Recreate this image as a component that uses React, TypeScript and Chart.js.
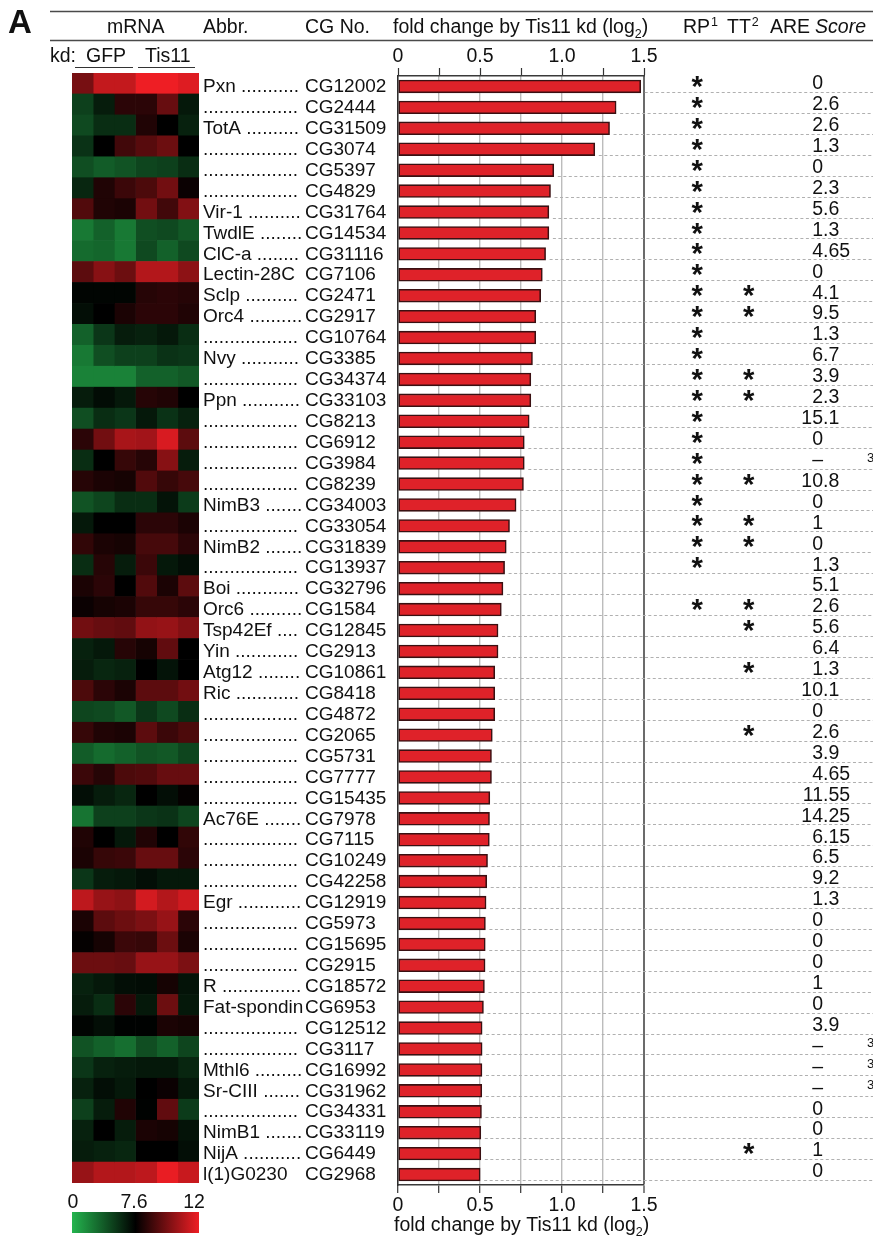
import React, { useEffect, useRef } from "react";
import { Chart, registerables } from "chart.js";

Chart.register(...registerables);

const FONT = "'Liberation Sans', Arial, Helvetica, sans-serif";
const TEXT = "#111111";

// Genes, top to bottom
const cgNumbers = [
  "CG12002", "CG2444", "CG31509", "CG3074", "CG5397", "CG4829", "CG31764", "CG14534", "CG31116", "CG7106",
  "CG2471", "CG2917", "CG10764", "CG3385", "CG34374", "CG33103", "CG8213", "CG6912", "CG3984", "CG8239",
  "CG34003", "CG33054", "CG31839", "CG13937", "CG32796", "CG1584", "CG12845", "CG2913", "CG10861", "CG8418",
  "CG4872", "CG2065", "CG5731", "CG7777", "CG15435", "CG7978", "CG7115", "CG10249", "CG42258", "CG12919",
  "CG5973", "CG15695", "CG2915", "CG18572", "CG6953", "CG12512", "CG3117", "CG16992", "CG31962", "CG34331",
  "CG33119", "CG6449", "CG2968",
];

const abbreviations = [
  "Pxn", "", "TotA", "", "", "", "Vir-1", "TwdlE", "ClC-a", "Lectin-28C",
  "Sclp", "Orc4", "", "Nvy", "", "Ppn", "", "", "", "",
  "NimB3", "", "NimB2", "", "Boi", "Orc6", "Tsp42Ef", "Yin", "Atg12", "Ric",
  "", "", "", "", "", "Ac76E", "", "", "", "Egr",
  "", "", "", "R", "Fat-spondin", "", "", "Mthl6", "Sr-CIII", "",
  "NimB1", "NijA", "l(1)G0230",
];

// fold change by Tis11 kd (log2)
const foldChange = [
  1.48, 1.33, 1.29, 1.2, 0.95, 0.93, 0.92, 0.92, 0.9, 0.88,
  0.87, 0.84, 0.84, 0.82, 0.81, 0.81, 0.8, 0.77, 0.77, 0.765,
  0.72, 0.68, 0.66, 0.65, 0.64, 0.63, 0.61, 0.61, 0.59, 0.59,
  0.59, 0.575, 0.57, 0.57, 0.56, 0.558, 0.557, 0.546, 0.541, 0.537,
  0.533, 0.532, 0.531, 0.527, 0.521, 0.513, 0.513, 0.512, 0.511, 0.509,
  0.505, 0.505, 0.501,
];

// rows (1-based) marked in the RP and TT columns
const rpRows = [1, 2, 3, 4, 5, 6, 7, 8, 9, 10, 11, 12, 13, 14, 15, 16, 17, 18, 19, 20, 21, 22, 23, 24, 26];
const ttRows = [11, 12, 15, 16, 20, 22, 23, 26, 27, 29, 32, 52];

const areScores = [
  "0", "2.6", "2.6", "1.3", "0", "2.3", "5.6", "1.3", "4.65", "0",
  "4.1", "9.5", "1.3", "6.7", "3.9", "2.3", "15.1", "0", "–", "10.8",
  "0", "1", "0", "1.3", "5.1", "2.6", "5.6", "6.4", "1.3", "10.1",
  "0", "2.6", "3.9", "4.65", "11.55", "14.25", "6.15", "6.5", "9.2", "1.3",
  "0", "0", "0", "1", "0", "3.9", "–", "–", "–", "0",
  "0", "1", "0",
];
const areNoteRows = [19, 47, 48, 49];

// mRNA levels (log2), three GFP kd and three Tis11 kd samples
const gfp1 = [9.8, 4.9, 4.5, 5.5, 4.3, 6.0, 9.1, 2.5, 3.1, 9.3, 7.4, 7.0, 3.5, 2.5, 2.1, 6.4, 4.3, 8.4, 5.7, 8.3, 4.1, 6.6, 8.5, 5.7, 8.1, 7.8, 9.7, 6.2, 6.4, 9.0, 4.7, 8.6, 3.7, 8.7, 7.0, 2.7, 8.2, 8.1, 5.3, 11.1, 8.1, 7.7, 9.6, 6.2, 6.4, 7.4, 4.1, 5.3, 6.2, 4.9, 6.2, 6.4, 10.4];
const gfp2 = [11.2, 6.4, 5.7, 7.6, 3.7, 8.2, 8.2, 3.5, 3.3, 10.1, 7.4, 7.6, 5.3, 4.3, 2.1, 7.1, 5.7, 9.7, 7.6, 8.1, 4.7, 7.6, 8.1, 8.3, 8.4, 8.0, 9.5, 6.6, 6.0, 8.4, 4.5, 8.2, 3.1, 8.3, 6.4, 4.9, 7.6, 8.6, 6.4, 10.4, 9.3, 8.0, 9.6, 6.6, 5.7, 7.0, 3.5, 6.2, 7.0, 6.4, 7.6, 6.2, 10.9];
const gfp3 = [11.2, 8.4, 5.7, 8.8, 4.1, 8.7, 8.1, 2.5, 2.5, 9.6, 7.4, 8.1, 6.4, 4.9, 2.1, 6.6, 5.3, 10.7, 8.6, 8.0, 5.7, 7.6, 8.0, 6.4, 7.6, 8.1, 9.4, 8.3, 6.2, 8.1, 3.9, 8.1, 3.5, 9.0, 6.0, 4.9, 6.6, 8.7, 6.6, 10.2, 9.6, 8.7, 9.5, 7.0, 8.4, 7.5, 2.9, 6.4, 6.6, 8.2, 6.4, 6.0, 10.9];
const tis1 = [12, 8.4, 8.2, 9.2, 4.7, 9.0, 9.7, 4.3, 4.5, 10.9, 8.3, 8.4, 6.2, 4.9, 3.5, 8.3, 6.6, 10.6, 8.3, 9.1, 5.7, 8.4, 8.9, 8.7, 9.1, 8.6, 10.3, 8.0, 7.6, 9.3, 5.3, 9.3, 4.1, 9.1, 7.6, 5.3, 8.2, 9.5, 7.0, 11.5, 9.9, 8.6, 10.4, 7.1, 6.6, 7.5, 4.3, 6.6, 7.6, 7.5, 8.1, 7.6, 11.1];
const tis2 = [12, 9.5, 7.6, 9.6, 4.9, 9.7, 8.8, 4.5, 3.5, 10.9, 8.4, 8.4, 6.6, 5.5, 3.5, 8.2, 5.5, 11.6, 10.1, 8.6, 6.8, 8.4, 8.9, 6.6, 8.1, 8.6, 10.4, 9.4, 6.8, 9.3, 4.5, 8.7, 3.9, 9.5, 7.0, 5.5, 7.6, 9.5, 6.6, 10.9, 10.4, 9.6, 10.4, 8.0, 9.6, 8.1, 3.5, 6.6, 7.8, 9.4, 8.0, 7.6, 11.9];
const tis3 = [11.7, 6.6, 6.2, 7.6, 5.7, 7.8, 10.0, 3.9, 4.5, 10.2, 8.3, 8.2, 5.7, 5.3, 3.9, 7.6, 6.2, 9.3, 6.4, 8.9, 5.1, 8.1, 8.4, 7.0, 9.3, 8.4, 10.0, 7.6, 7.6, 9.7, 5.7, 9.0, 4.7, 9.5, 7.7, 4.7, 8.5, 8.4, 6.6, 11.4, 8.4, 8.1, 9.9, 6.8, 6.6, 8.0, 4.7, 6.0, 6.6, 5.1, 6.8, 7.0, 11.3];

const heatColumns = [gfp1, gfp2, gfp3, tis1, tis2, tis3];
const heatColumnNames = ["GFP 1", "GFP 2", "GFP 3", "Tis11 1", "Tis11 2", "Tis11 3"];

// colour scale: 0 (green) - 7.6 (black) - 12 (red)
const scaleLow = 0;
const scaleMid = 7.6;
const scaleHigh = 12;
const scaleTicks = ["0", "7.6", "12"];
const GREEN = [36, 180, 78];
const RED = [238, 30, 36];

function heatColor(v: number): string {
  let c: number[];
  let t: number;
  if (v <= scaleMid) {
    t = Math.min(1, Math.max(0, (scaleMid - v) / (scaleMid - scaleLow)));
    c = GREEN;
  } else {
    t = Math.min(1, Math.max(0, (v - scaleMid) / (scaleHigh - scaleMid)));
    c = RED;
  }
  return `rgb(${Math.round(c[0] * t)},${Math.round(c[1] * t)},${Math.round(c[2] * t)})`;
}

function tickText(v: number): string {
  if (Math.abs(v) < 1e-9) return "0";
  if (Math.abs(v * 2 - Math.round(v * 2)) < 1e-6) return v.toFixed(1);
  return "";
}

type Run = { text: string; size: number; dy?: number; dx?: number; italic?: boolean };

function drawRuns(ctx: CanvasRenderingContext2D, x: number, y: number, runs: Run[]) {
  ctx.textAlign = "left";
  ctx.textBaseline = "alphabetic";
  for (const r of runs) {
    x += r.dx || 0;
    ctx.font = `${r.italic ? "italic " : ""}${r.size}px ${FONT}`;
    ctx.fillText(r.text, x, y + (r.dy || 0));
    x += ctx.measureText(r.text).width;
  }
}

const FS = 19.5;
const LABEL_FS = 19;

const tablePlugin = {
  id: "geneTable",
  afterDraw(chart: any) {
    const ctx: CanvasRenderingContext2D = chart.ctx;
    const yScale = chart.scales.y;
    const bars = chart.getDatasetMeta(0).data;
    ctx.save();
    ctx.fillStyle = TEXT;

    // panel letter
    ctx.font = `bold 33px ${FONT}`;
    ctx.textAlign = "left";
    ctx.textBaseline = "alphabetic";
    ctx.fillText("A", 8, 33);

    // header rules
    ctx.strokeStyle = "#4a4a4a";
    ctx.lineWidth = 1.5;
    ctx.beginPath();
    ctx.moveTo(50, 11.5);
    ctx.lineTo(873, 11.5);
    ctx.moveTo(50, 40.5);
    ctx.lineTo(873, 40.5);
    ctx.stroke();

    // header texts
    const hb = 33;
    drawRuns(ctx, 107, hb, [{ text: "mRNA", size: FS }]);
    drawRuns(ctx, 203, hb, [{ text: "Abbr.", size: FS }]);
    drawRuns(ctx, 305, hb, [{ text: "CG No.", size: FS }]);
    drawRuns(ctx, 393, hb, [
      { text: "fold change by Tis11 kd (log", size: FS },
      { text: "2", size: 12.5, dy: 5 },
      { text: ")", size: FS },
    ]);
    drawRuns(ctx, 683, hb, [{ text: "RP", size: FS }, { text: "1", size: 12.5, dy: -7, dx: 1 }]);
    drawRuns(ctx, 727, hb, [{ text: "TT", size: FS }, { text: "2", size: 12.5, dy: -7, dx: 1 }]);
    drawRuns(ctx, 770, hb, [{ text: "ARE", size: FS }, { text: "Score", size: FS, italic: true, dx: 5 }]);

    // sample header
    const kb = 61.7;
    drawRuns(ctx, 50, kb, [{ text: "kd:", size: FS }]);
    drawRuns(ctx, 86, kb, [{ text: "GFP", size: FS }]);
    drawRuns(ctx, 145, kb, [{ text: "Tis11", size: FS }]);
    ctx.strokeStyle = "#333";
    ctx.lineWidth = 1.2;
    ctx.beginPath();
    ctx.moveTo(75, 67.5);
    ctx.lineTo(133, 67.5);
    ctx.moveTo(138, 67.5);
    ctx.lineTo(195, 67.5);
    ctx.stroke();

    // dotted leaders to the right edge
    ctx.strokeStyle = "#b0b0b0";
    ctx.lineWidth = 1.2;
    ctx.setLineDash([3, 2.5]);
    bars.forEach((bar: any) => {
      const y = Math.round(bar.y + 5.5) + 0.5;
      ctx.beginPath();
      ctx.moveTo(bar.x + 4, y);
      ctx.lineTo(873, y);
      ctx.stroke();
    });
    ctx.setLineDash([]);

    // gene labels
    ctx.font = `${LABEL_FS}px ${FONT}`;
    ctx.textAlign = "left";
    ctx.textBaseline = "alphabetic";
    const dotW = ctx.measureText(".").width;
    const dotEnd = 303;
    cgNumbers.forEach((cg, i) => {
      const cy = yScale.getPixelForValue(i);
      const base = cy + 5.7;
      const ab = abbreviations[i];
      let x = 203;
      if (ab) {
        ctx.fillText(ab, 203, base);
        x = 203 + ctx.measureText(ab + " ").width;
      }
      const n = Math.floor((dotEnd - x) / dotW);
      if (n >= 3) ctx.fillText(".".repeat(n), x, base);
      ctx.fillText(cg, 305, base);
    });

    // asterisks
    ctx.font = `bold 30px ${FONT}`;
    const am = ctx.measureText("*");
    const aH = am.actualBoundingBoxAscent + am.actualBoundingBoxDescent;
    const aSize = (30 * 11.7) / aH;
    ctx.font = `bold ${aSize}px ${FONT}`;
    const m2 = ctx.measureText("*");
    const aMid = (m2.actualBoundingBoxDescent - m2.actualBoundingBoxAscent) / 2;
    const aXMid = (m2.actualBoundingBoxRight - m2.actualBoundingBoxLeft) / 2;
    const drawStar = (x: number, cy: number) => {
      ctx.fillText("*", x - aXMid, cy - 4.4 - aMid);
    };
    ctx.textAlign = "left";
    rpRows.forEach((r) => drawStar(697.5, yScale.getPixelForValue(r - 1)));
    ttRows.forEach((r) => drawStar(749, yScale.getPixelForValue(r - 1)));

    // ARE scores, aligned on the decimal point
    ctx.font = `${FS}px ${FONT}`;
    areScores.forEach((s, i) => {
      const cy = yScale.getPixelForValue(i);
      const base = cy + 2.8;
      const dot = s.indexOf(".");
      const intPart = dot >= 0 ? s.slice(0, dot) : s;
      const frac = dot >= 0 ? s.slice(dot) : "";
      ctx.textAlign = "right";
      ctx.fillText(intPart, 823, base);
      if (frac) {
        ctx.textAlign = "left";
        ctx.fillText(frac, 823, base);
      }
    });
    ctx.textAlign = "left";
    ctx.font = `13px ${FONT}`;
    areNoteRows.forEach((r) => {
      const cy = yScale.getPixelForValue(r - 1);
      ctx.fillText("3", 867, cy - 1.5);
    });

    // colour key
    const gx = 72;
    const gw = 127;
    const grad = ctx.createLinearGradient(gx, 0, gx + gw, 0);
    grad.addColorStop(0, heatColor(scaleLow));
    grad.addColorStop(0.5, heatColor(scaleMid));
    grad.addColorStop(1, heatColor(scaleHigh));
    ctx.fillStyle = grad;
    ctx.fillRect(gx, 1212, gw, 21);
    ctx.fillStyle = TEXT;
    ctx.font = `${FS}px ${FONT}`;
    ctx.textAlign = "center";
    const keyX = [73, 134, 194];
    scaleTicks.forEach((t, k) => ctx.fillText(t, keyX[k], 1208));

    // bottom axis title
    drawRuns(ctx, 394, 1231, [
      { text: "fold change by Tis11 kd (log", size: FS },
      { text: "2", size: 12.5, dy: 5 },
      { text: ")", size: FS },
    ]);

    ctx.restore();
  },
};

const axisTicks = (padding: number) => ({
  stepSize: 0.25,
  autoSkip: false,
  maxRotation: 0,
  padding,
  color: TEXT,
  font: { family: FONT, size: FS },
  callback: (v: any) => tickText(Number(v)),
});

const isEnd = (c: any) => c.tick && Math.abs(c.tick.value - 1.5) < 1e-6;

export default function App() {
  const barRef = useRef<HTMLCanvasElement>(null);
  const heatRef = useRef<HTMLCanvasElement>(null);

  useEffect(() => {
    document.body.style.margin = "0";

    const barChart = new Chart(barRef.current as HTMLCanvasElement, {
      type: "bar",
      data: {
        labels: cgNumbers,
        datasets: [
          {
            label: "fold change by Tis11 kd (log2)",
            data: foldChange,
            backgroundColor: "#df2229",
            borderColor: "#3a1012",
            borderWidth: 1.6,
            borderSkipped: false,
            barThickness: 12.8,
          },
        ],
      },
      options: {
        indexAxis: "y",
        responsive: false,
        animation: false,
        devicePixelRatio: 1,
        layout: { padding: { left: 398, right: 229, top: 40, bottom: 0 } },
        plugins: { legend: { display: false }, tooltip: { enabled: false } },
        scales: {
          x: {
            type: "linear",
            position: "bottom",
            min: 0,
            max: 1.5,
            ticks: axisTicks(1),
            grid: {
              display: true,
              drawOnChartArea: true,
              color: (c: any) => (isEnd(c) ? "#6b6b6b" : "#bcbcbc"),
              lineWidth: (c: any) => (isEnd(c) ? 2 : 1.4),
              tickColor: "#333",
              tickLength: 8,
              tickWidth: 1.2,
            },
            border: { display: true, color: "#3a3a3a", width: 1.5 },
            afterFit: (s: any) => {
              s.height = 52;
            },
          },
          xTop: {
            type: "linear",
            position: "top",
            min: 0,
            max: 1.5,
            ticks: axisTicks(0),
            grid: { drawOnChartArea: false, tickColor: "#333", tickLength: 8, tickWidth: 1.2 },
            border: { display: true, color: "#3a3a3a", width: 1.5 },
            afterFit: (s: any) => {
              s.height = 36;
            },
          },
          y: {
            type: "category",
            ticks: { display: false },
            grid: { display: false, drawTicks: false },
            border: { display: true, color: "#2e2e2e", width: 1.5 },
            afterFit: (s: any) => {
              s.width = 0;
            },
          },
        },
      } as any,
      plugins: [tablePlugin],
    });

    const heatChart = new Chart(heatRef.current as HTMLCanvasElement, {
      type: "bar",
      data: {
        labels: cgNumbers,
        datasets: heatColumns.map((col, c) => ({
          label: heatColumnNames[c],
          data: col.map(() => 1),
          backgroundColor: col.map(heatColor),
          borderWidth: 0,
          barPercentage: 1,
          categoryPercentage: 1,
        })),
      },
      options: {
        indexAxis: "y",
        responsive: false,
        animation: false,
        devicePixelRatio: 1,
        layout: { padding: 0 },
        plugins: { legend: { display: false }, tooltip: { enabled: false } },
        scales: {
          x: { stacked: true, display: false, min: 0, max: heatColumns.length },
          y: { stacked: true, display: false },
        },
      } as any,
    });

    return () => {
      barChart.destroy();
      heatChart.destroy();
    };
  }, []);

  return (
    <div style={{ position: "relative", width: 873, height: 1237, overflow: "hidden", background: "#fff" }}>
      <canvas
        ref={barRef}
        width={873}
        height={1237}
        style={{ position: "absolute", left: 0, top: 0, width: 873, height: 1237 }}
      />
      <canvas
        ref={heatRef}
        width={127}
        height={1110}
        style={{ position: "absolute", left: 72, top: 73, width: 127, height: 1110 }}
      />
    </div>
  );
}
